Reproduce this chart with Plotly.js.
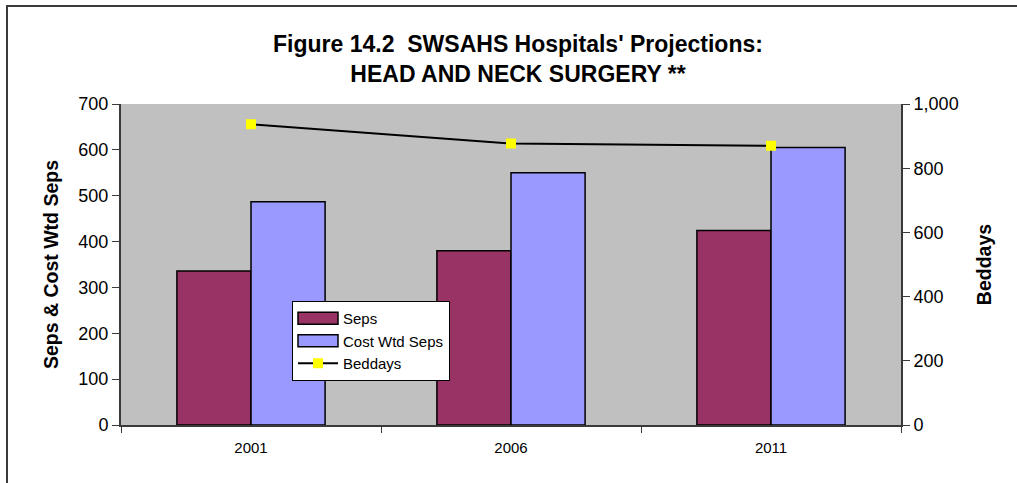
<!DOCTYPE html>
<html>
<head>
<meta charset="utf-8">
<script src="https://cdn.plot.ly/plotly-3.0.1.min.js"></script>
<style>
  html, body { margin: 0; padding: 0; background: #ffffff; overflow: hidden; }
  #chart { width: 1017px; height: 483px; position: relative; }
  #frame { position: absolute; left: 6px; top: 5px; width: 1200px; height: 700px;
           border-left: 2px solid #3a3a3a; border-top: 2px solid #3a3a3a; pointer-events: none; }
</style>
</head>
<body>
<div id="chart"></div>
<div id="frame"></div>
<script>
const years = ["2001", "2006", "2011"];
const seps = [336, 380, 424];
const costWtdSeps = [487, 550, 605];
const beddays = [937, 877, 870];
const sepsTicks = [0, 100, 200, 300, 400, 500, 600, 700];
const beddayTicks = [0, 200, 400, 600, 800, 1000];

const FONT = "Arial, 'Liberation Sans', sans-serif";

const traces = [
  {
    type: "bar", name: "Seps", x: years, y: seps,
    marker: { color: "#993366", line: { color: "#000000", width: 1.5 } },
    yaxis: "y"
  },
  {
    type: "bar", name: "Cost Wtd Seps", x: years, y: costWtdSeps,
    marker: { color: "#9999FF", line: { color: "#000000", width: 1.5 } },
    yaxis: "y"
  },
  {
    type: "scatter", mode: "lines+markers", name: "Beddays", x: years, y: beddays,
    line: { color: "#000000", width: 2 },
    marker: { symbol: "square", color: "#FFFF00", size: 10, line: { width: 0 } },
    yaxis: "y2"
  }
];

const layout = {
  width: 1017, height: 483,
  margin: { l: 121, r: 116, t: 104, b: 58, pad: 0 },
  paper_bgcolor: "rgba(0,0,0,0)",
  plot_bgcolor: "#C0C0C0",
  font: { family: FONT, color: "#000000" },
  showlegend: true,
  barmode: "group",
  bargap: 0.43,
  bargroupgap: 0,
  title: {
    text: "Figure 14.2&nbsp; SWSAHS Hospitals' Projections:<br>HEAD AND NECK SURGERY **",
    font: { family: FONT, size: 23, weight: "bold", color: "#000000" },
    x: 518 / 1017, xanchor: "center", xref: "container",
    y: 1 - 52 / 483, yanchor: "top", yref: "container"
  },
  xaxis: {
    type: "category",
    showgrid: false, zeroline: false,
    showline: true, linecolor: "#3a3a3a", linewidth: 2,
    ticks: "outside", tickson: "boundaries", ticklen: 6, tickcolor: "#3a3a3a", tickwidth: 1,
    tickfont: { family: FONT, size: 15 },
    ticklabelstandoff: 8
  },
  yaxis: {
    range: [0, 700], tickvals: sepsTicks,
    showgrid: false, zeroline: false,
    showline: true, linecolor: "#3a3a3a", linewidth: 2,
    ticks: "outside", ticklen: 7, tickcolor: "#3a3a3a", tickwidth: 1,
    tickfont: { family: FONT, size: 18 },
    title: { text: "Seps & Cost Wtd Seps", font: { family: FONT, size: 19.5, weight: "bold" }, standoff: 15 }
  },
  yaxis2: {
    overlaying: "y", side: "right",
    range: [0, 1000], tickvals: beddayTicks, tickformat: ",",
    showgrid: false, zeroline: false,
    showline: true, linecolor: "#3a3a3a", linewidth: 2,
    ticks: "outside", ticklen: 7, tickcolor: "#3a3a3a", tickwidth: 1,
    tickfont: { family: FONT, size: 18 },
    title: { text: "Beddays", font: { family: FONT, size: 19.5, weight: "bold" }, standoff: 20 }
  },
  legend: {
    x: (292 - 121) / 780, xanchor: "left",
    y: (425 - 301) / 321, yanchor: "top",
    bgcolor: "#FFFFFF", bordercolor: "#000000", borderwidth: 1,
    font: { family: FONT, size: 15 },
    itemwidth: 40, traceorder: "normal"
  }
};

function widenSwatches(gd) {
  // widen the bar swatches in the legend to Excel-style rectangles
  const groups = gd.querySelectorAll(".legend .traces");
  groups.forEach(function (g, i) {
    if (i > 1) return;
    g.querySelectorAll(".legendpoints path").forEach(function (p) {
      p.setAttribute("d", "M20,6H-20V-6H20Z");
    });
  });
}

Plotly.newPlot("chart", traces, layout, { displayModeBar: false, staticPlot: true }).then(function (gd) {
  widenSwatches(gd);
  setTimeout(function () { widenSwatches(gd); }, 50);
});
</script>
</body>
</html>
